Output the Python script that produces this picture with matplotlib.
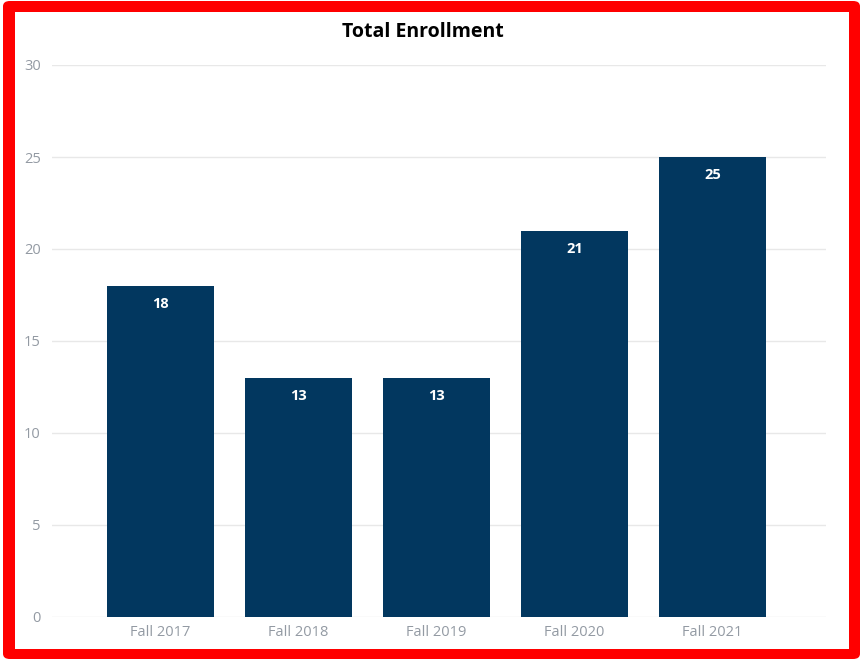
import matplotlib
matplotlib.use("Agg")
import matplotlib.pyplot as plt
from matplotlib.patches import Rectangle, FancyBboxPatch

categories = ["Fall 2017", "Fall 2018", "Fall 2019", "Fall 2020", "Fall 2021"]
enrollment = [18, 13, 13, 21, 25]
y_ticks = [0, 5, 10, 15, 20, 25, 30]

W, H = 860, 659
fig = plt.figure(figsize=(W / 100, H / 100), dpi=100)
fig.patch.set_facecolor("white")

# red frame
fig.patches.append(FancyBboxPatch((3 / W, 0), (W - 3) / W, (H - 1) / H,
                                  boxstyle="round,pad=0,rounding_size=0.008",
                                  transform=fig.transFigure, facecolor="#ff0000",
                                  edgecolor="none", zorder=-2))
fig.patches.append(Rectangle((15 / W, (H - 649) / H), (849 - 15) / W, (649 - 12) / H,
                             transform=fig.transFigure, facecolor="white",
                             edgecolor="none", zorder=-1))

ax = fig.add_axes([52 / W, (H - 617) / H, (826 - 52) / W, (617 - 65) / H])
ax.set_zorder(2)
ax.set_facecolor("none")
x = list(range(len(categories)))
bars = ax.bar(x, enrollment, width=0.775, color="#02375f", zorder=3)
for xi, v in zip(x, enrollment):
    ax.text(xi, v - 1.0, str(v), ha="center", va="center", color="white",
            fontsize=10.5, fontweight="bold", fontfamily="Open Sans", zorder=4)

ax.set_xlim(-0.786, 4.824)
ax.set_ylim(0, 30)
ax.set_yticks(y_ticks)
ax.set_xticks(x)
ax.set_xticklabels(categories)
ax.yaxis.grid(True, color="#e8e8e8", linewidth=1, zorder=0)
ax.set_axisbelow(True)
for s in ax.spines.values():
    s.set_visible(False)
ax.tick_params(axis="both", length=0, labelsize=10.5)
ax.tick_params(axis="y", pad=8)
ax.tick_params(axis="x", pad=6)
for lab in ax.get_xticklabels() + ax.get_yticklabels():
    lab.set_fontfamily("Open Sans")
    lab.set_color("#939aa3")

fig.text(423 / W, (H - 32) / H, "Total Enrollment", ha="center", va="center",
         fontsize=14, fontweight="bold", fontfamily="Open Sans", color="black",
         zorder=5)

fig.savefig("out.png", dpi=100)
